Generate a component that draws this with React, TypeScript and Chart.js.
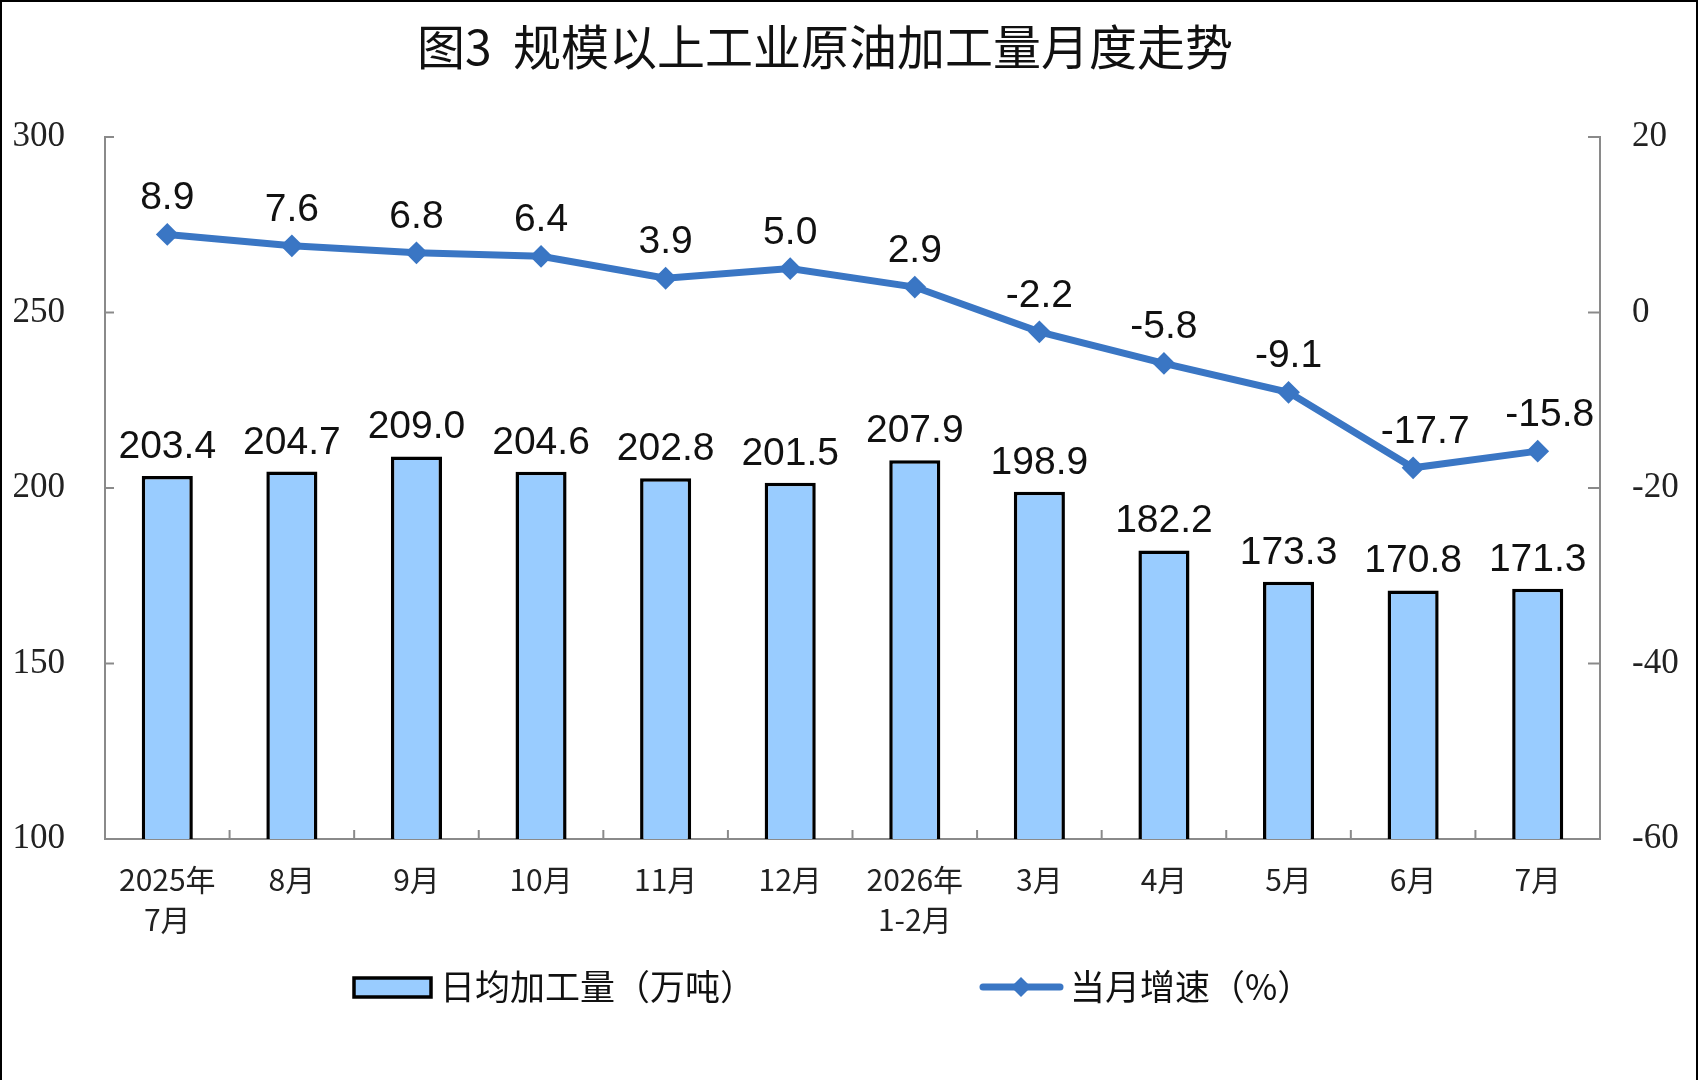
import React, { useEffect, useRef } from 'react';
import { Chart, registerables } from 'chart.js';

Chart.register(...registerables);

const categories: (string | string[])[] = [
  ['2025年', '7月'], '8月', '9月', '10月', '11月', '12月',
  ['2026年', '1-2月'], '3月', '4月', '5月', '6月', '7月',
];
const dailyOutput = [203.4, 204.7, 209.0, 204.6, 202.8, 201.5, 207.9, 198.9, 182.2, 173.3, 170.8, 171.3];
const growthRate = [8.9, 7.6, 6.8, 6.4, 3.9, 5.0, 2.9, -2.2, -5.8, -9.1, -17.7, -15.8];
const leftAxisRange = [100, 300, 50];
const rightAxisRange = [-60, 20, 20];
const titleText = '图3  规模以上工业原油加工量月度走势';
const barSeriesName = '日均加工量（万吨）';
const lineSeriesName = '当月增速（%）';

const BAR_FILL = '#99CCFF';
const LINE_COLOR = '#3A76C4';
const AXIS_COLOR = '#8a8a8a';
const CJK = '"Noto Sans CJK SC", "Noto Sans", sans-serif';
const SANS = '"Liberation Sans", Arial, sans-serif';
const SERIF = '"Liberation Serif", "Times New Roman", serif';

function drawDiamond(ctx: CanvasRenderingContext2D, x: number, y: number, r: number) {
  ctx.beginPath();
  ctx.moveTo(x, y - r);
  ctx.lineTo(x + r, y);
  ctx.lineTo(x, y + r);
  ctx.lineTo(x - r, y);
  ctx.closePath();
  ctx.fill();
}

const decorPlugin = {
  id: 'decor',
  afterDatasetsDraw(chart: any) {
    const ctx: CanvasRenderingContext2D = chart.ctx;
    ctx.save();
    ctx.fillStyle = '#111';
    ctx.font = `39px ${SANS}`;
    ctx.textAlign = 'center';
    ctx.textBaseline = 'alphabetic';
    const barMeta = chart.getDatasetMeta(0);
    barMeta.data.forEach((el: any, i: number) => {
      ctx.fillText(dailyOutput[i].toFixed(1), el.x, el.y - 18);
    });
    const lineMeta = chart.getDatasetMeta(1);
    lineMeta.data.forEach((el: any, i: number) => {
      const dx = i >= 10 ? 12 : 0;
      ctx.fillText(growthRate[i].toFixed(1), el.x + dx, el.y - 25);
    });
    ctx.restore();
  },
  afterDraw(chart: any) {
    const ctx: CanvasRenderingContext2D = chart.ctx;
    const { left, right, bottom } = chart.chartArea;
    const ys = chart.scales.y;
    const y1s = chart.scales.y1;
    const xs = chart.scales.x;
    ctx.save();
    // inner tick marks
    ctx.strokeStyle = AXIS_COLOR;
    ctx.lineWidth = 2;
    const seg = (a: number, b: number, c: number, d: number) => {
      ctx.beginPath();
      ctx.moveTo(a, b);
      ctx.lineTo(c, d);
      ctx.stroke();
    };
    ys.ticks.forEach((t: any) => {
      const p = ys.getPixelForValue(t.value);
      seg(left, p, left + 9, p);
    });
    y1s.ticks.forEach((t: any) => {
      const p = y1s.getPixelForValue(t.value);
      seg(right - 12, p, right, p);
    });
    for (let i = 1; i < categories.length; i++) {
      const p = (xs.getPixelForValue(i - 1) + xs.getPixelForValue(i)) / 2;
      seg(p, bottom, p, bottom - 9);
    }

    // title
    ctx.fillStyle = '#111';
    ctx.font = `48px ${CJK}`;
    ctx.textAlign = 'center';
    ctx.textBaseline = 'middle';
    ctx.fillText(titleText, 825, 47);

    // legend
    const ly = 987;
    ctx.fillStyle = BAR_FILL;
    ctx.fillRect(354, 978, 77, 19);
    ctx.strokeStyle = '#000';
    ctx.lineWidth = 3.5;
    ctx.strokeRect(354, 978, 77, 19);
    ctx.fillStyle = '#111';
    ctx.font = `35px ${CJK}`;
    ctx.textAlign = 'left';
    ctx.textBaseline = 'middle';
    ctx.fillText(barSeriesName, 440, ly);

    ctx.strokeStyle = LINE_COLOR;
    ctx.lineWidth = 7;
    ctx.lineCap = 'round';
    seg(983, ly, 1060, ly);
    ctx.fillStyle = LINE_COLOR;
    drawDiamond(ctx, 1021, ly, 10);
    ctx.fillStyle = '#111';
    ctx.fillText(lineSeriesName, 1070, ly);

    // outer frame
    ctx.strokeStyle = '#000';
    ctx.lineWidth = 2;
    ctx.lineCap = 'butt';
    seg(1, 0, 1, 1080);
    seg(0, 1, 1698, 1);
    seg(1697, 0, 1697, 1080);
    ctx.restore();
  },
};

export default function App() {
  const canvasRef = useRef<HTMLCanvasElement | null>(null);

  useEffect(() => {
    document.body.style.margin = '0';
    document.body.style.background = '#fff';
    const canvas = canvasRef.current;
    if (!canvas) return;
    const chart = new Chart(canvas, {
      type: 'bar',
      data: {
        labels: categories,
        datasets: [
          {
            type: 'bar',
            label: barSeriesName,
            data: dailyOutput,
            backgroundColor: BAR_FILL,
            borderColor: '#000',
            borderWidth: 3.5,
            borderSkipped: 'bottom',
            barPercentage: 0.41,
            categoryPercentage: 1,
            yAxisID: 'y',
            order: 2,
          },
          {
            type: 'line',
            label: lineSeriesName,
            data: growthRate,
            borderColor: LINE_COLOR,
            backgroundColor: LINE_COLOR,
            borderWidth: 7,
            pointStyle: 'rectRot',
            pointRadius: 10,
            pointBorderWidth: 2,
            pointBackgroundColor: LINE_COLOR,
            pointBorderColor: LINE_COLOR,
            tension: 0,
            yAxisID: 'y1',
            order: 1,
          } as any,
        ],
      },
      options: {
        animation: false,
        responsive: true,
        maintainAspectRatio: false,
        layout: { padding: { top: 137, left: 0, right: 0, bottom: 0 } },
        plugins: {
          legend: { display: false },
          title: { display: false },
          tooltip: { enabled: false },
        },
        scales: {
          x: {
            offset: true,
            grid: { display: true, drawOnChartArea: false, drawTicks: false, offset: true },
            border: { display: true, color: AXIS_COLOR, width: 2 },
            ticks: {
              color: '#222',
              font: { family: CJK, size: 30, lineHeight: 1.333 },
              padding: 21,
              maxRotation: 0,
              autoSkip: false,
            },
            afterFit: (s: any) => { s.height = 241; },
          },
          y: {
            position: 'left',
            min: leftAxisRange[0],
            max: leftAxisRange[1],
            ticks: {
              stepSize: leftAxisRange[2],
              color: '#222',
              font: { family: SERIF, size: 35 },
              padding: 40,
            },
            grid: { display: true, drawOnChartArea: false, drawTicks: false },
            border: { display: true, color: AXIS_COLOR, width: 2 },
            afterFit: (s: any) => { s.width = 105; },
          },
          y1: {
            position: 'right',
            min: rightAxisRange[0],
            max: rightAxisRange[1],
            ticks: {
              stepSize: rightAxisRange[2],
              color: '#222',
              font: { family: SERIF, size: 35 },
              padding: 32,
            },
            grid: { display: true, drawOnChartArea: false, drawTicks: false },
            border: { display: true, color: AXIS_COLOR, width: 2 },
            afterFit: (s: any) => { s.width = 98; },
          },
        },
      },
      plugins: [decorPlugin],
    });
    return () => chart.destroy();
  }, []);

  return (
    <div style={{ width: 1698, height: 1080, position: 'relative', background: '#fff' }}>
      <canvas ref={canvasRef} />
    </div>
  );
}
